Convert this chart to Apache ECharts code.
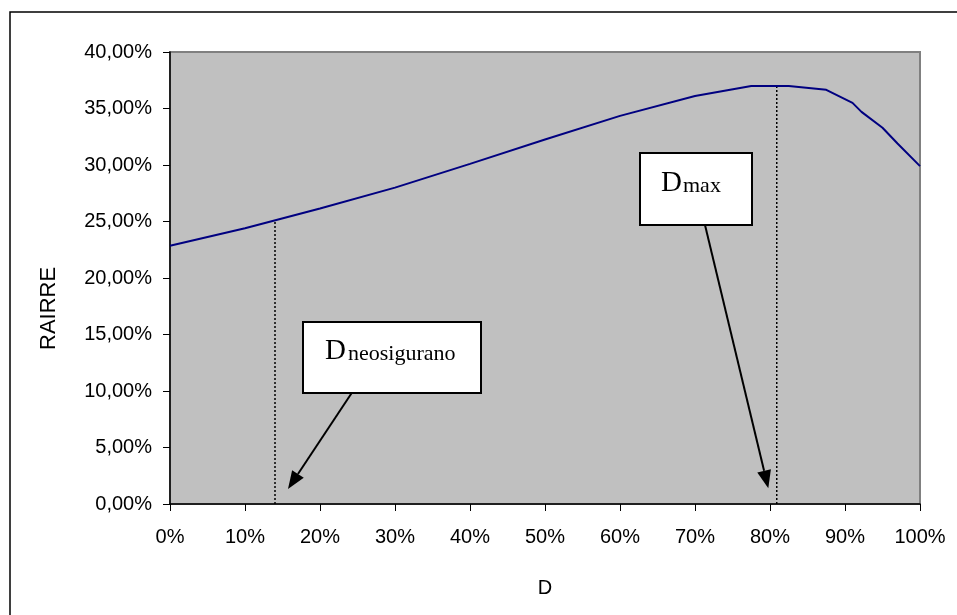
<!DOCTYPE html>
<html>
<head>
<meta charset="utf-8">
<script src="https://cdn.jsdelivr.net/npm/echarts@6/dist/echarts.min.js"></script>
<style>html,body{margin:0;padding:0;background:#fff}#c{width:957px;height:615px}</style>
</head>
<body>
<div id="c"></div>
<script>
// D values (percent) and RAIRRE values (percent)
var dValues = [0, 10, 20, 30, 40, 50, 60, 70, 77.5, 82.5, 87.5, 91, 92.2, 95, 97, 100];
var rValues = [22.85, 24.4, 26.15, 28.0, 30.1, 32.25, 34.35, 36.1, 37.0, 37.0, 36.65, 35.5, 34.7, 33.3, 31.9, 29.9];
var dNeosigurano = [14, 25.1];
var dMax = [80.9, 37.0];
var xTicks = [0, 10, 20, 30, 40, 50, 60, 70, 80, 90, 100];
var yTicks = [0, 5, 10, 15, 20, 25, 30, 35, 40];

var chart = echarts.init(document.getElementById('c'), null, {renderer: 'canvas'});
var font = 'Liberation Sans, Arial, sans-serif';
var serif = 'Liberation Serif, Times New Roman, serif';

function arrow(x1, y1, x2, y2) {
  var dx = x2 - x1, dy = y2 - y1, L = Math.sqrt(dx * dx + dy * dy);
  var ux = dx / L, uy = dy / L, hl = 18, hw = 7;
  var bx = x2 - hl * ux, by = y2 - hl * uy;
  var px = -uy * hw, py = ux * hw;
  return [
    {type: 'line', shape: {x1: x1, y1: y1, x2: bx, y2: by}, style: {stroke: '#000', lineWidth: 2}, z: 100},
    {type: 'polygon', shape: {points: [[x2, y2], [bx + px, by + py], [bx - px, by - py]]}, style: {fill: '#000'}, z: 100}
  ];
}

var graphics = [
  {type: 'rect', shape: {x: 10, y: 12, width: 960, height: 620}, style: {fill: 'none', stroke: '#000', lineWidth: 1.5}, z: 0},
  {type: 'text', x: 49, y: 350, rotation: Math.PI / 2, style: {text: 'RAIRRE', font: '22px ' + font, fill: '#000', align: 'left', verticalAlign: 'middle'}, z: 100},
  {type: 'rect', shape: {x: 303, y: 322, width: 178, height: 71}, style: {fill: '#fff', stroke: '#000', lineWidth: 2}, z: 90},
  {type: 'text', x: 325, y: 366, style: {text: 'D', font: '29px ' + serif, fill: '#000', align: 'left', verticalAlign: 'bottom'}, z: 100},
  {type: 'text', x: 348, y: 365, style: {text: 'neosigurano', font: '22px ' + serif, fill: '#000', align: 'left', verticalAlign: 'bottom'}, z: 100},
  {type: 'rect', shape: {x: 640, y: 153, width: 112, height: 72}, style: {fill: '#fff', stroke: '#000', lineWidth: 2}, z: 90},
  {type: 'text', x: 661, y: 198, style: {text: 'D', font: '29px ' + serif, fill: '#000', align: 'left', verticalAlign: 'bottom'}, z: 100},
  {type: 'text', x: 683, y: 197, style: {text: 'max', font: '22px ' + serif, fill: '#000', align: 'left', verticalAlign: 'bottom'}, z: 100}
].concat(arrow(351.7, 393, 288, 489)).concat(arrow(705, 225, 768.3, 488.3));

chart.setOption({
  animation: false,
  backgroundColor: '#fff',
  grid: {left: 170, top: 52, right: 37, bottom: 111, show: true, backgroundColor: '#c0c0c0', borderColor: '#808080', borderWidth: 2},
  xAxis: {
    type: 'value', min: xTicks[0], max: xTicks[xTicks.length - 1], interval: 10,
    name: 'D', nameLocation: 'middle', nameGap: 74,
    nameTextStyle: {fontFamily: font, fontSize: 20, color: '#000'},
    axisLine: {show: true, onZero: false, lineStyle: {color: '#000', width: 1.5}},
    axisTick: {show: true, length: 7, lineStyle: {color: '#000'}},
    axisLabel: {formatter: '{value}%', fontFamily: font, fontSize: 20, color: '#000', margin: 23},
    splitLine: {show: false}
  },
  yAxis: {
    type: 'value', min: yTicks[0], max: yTicks[yTicks.length - 1], interval: 5,
    axisLine: {show: true, onZero: false, lineStyle: {color: '#000', width: 1.5}},
    axisTick: {show: true, length: 7, lineStyle: {color: '#000'}},
    axisLabel: {formatter: function (v) { return v.toFixed(2).replace('.', ',') + '%'; }, fontFamily: font, fontSize: 20, color: '#000', margin: 18},
    splitLine: {show: false}
  },
  series: [
    {type: 'line', data: dValues.map(function (d, i) { return [d, rValues[i]]; }), showSymbol: false, symbol: 'none',
      lineStyle: {color: '#000080', width: 2}, z: 5},
    {type: 'line', data: [[dNeosigurano[0], 0], [dNeosigurano[0], dNeosigurano[1]]], symbol: 'none',
      lineStyle: {color: '#000', width: 1.5, type: [2, 2]}, z: 4},
    {type: 'line', data: [[dMax[0], 0], [dMax[0], dMax[1]]], symbol: 'none',
      lineStyle: {color: '#000', width: 1.5, type: [2, 2]}, z: 4}
  ],
  graphic: graphics
});
</script>
</body>
</html>
